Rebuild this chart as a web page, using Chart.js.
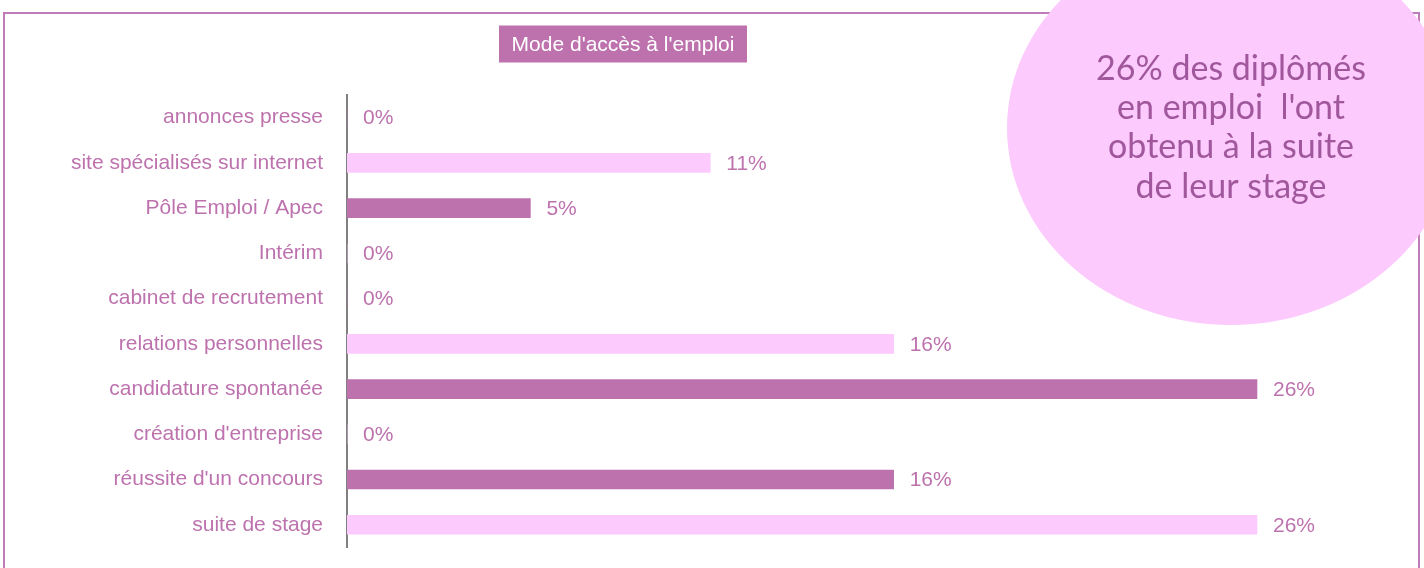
<!DOCTYPE html>
<html>
<head>
<meta charset="utf-8">
<script src="https://cdn.jsdelivr.net/npm/chart.js@4.4.1/dist/chart.umd.min.js"></script>
<style>
  html, body { margin: 0; padding: 0; background: #ffffff; }
  #wrap { width: 1424px; height: 568px; position: relative; }
</style>
</head>
<body>
<div id="wrap"><canvas id="c" width="1424" height="568"></canvas></div>
<script>
const categories = [
  "annonces presse",
  "site spécialisés sur internet",
  "Pôle Emploi / Apec",
  "Intérim",
  "cabinet de recrutement",
  "relations personnelles",
  "candidature spontanée",
  "création d'entreprise",
  "réussite d'un concours",
  "suite de stage"
];
const values = [0, 10.5, 5.3, 0, 0, 15.8, 26.3, 0, 15.8, 26.3];
const chartTitle = "Mode d'accès à l'emploi";
const noteLines = ["26% des diplômés", "en emploi  l'ont", "obtenu à la suite", "de leur stage"];

const DARK = "#BD72AE";
const LIGHT = "#FCCAFC";
const TEXT = "#BD72AE";
const FONT = "'Liberation Sans', Arial, sans-serif";
const barColors = categories.map((_, i) => ((categories.length - 1 - i) % 2 === 0 ? LIGHT : DARK));

const decorPlugin = {
  id: 'decor',
  beforeDraw(chart) {
    const ctx = chart.ctx;
    ctx.save();
    ctx.strokeStyle = "#C07CB8";
    ctx.lineWidth = 2;
    ctx.strokeRect(4, 13, 1415, 600);
    ctx.font = "21px " + FONT;
    const cx = 623, cy = 44;
    const bw = 248, bh = 37;
    ctx.fillStyle = DARK;
    ctx.fillRect(cx - bw / 2, cy - bh / 2, bw, bh);
    ctx.fillStyle = "#ffffff";
    ctx.textAlign = "center";
    ctx.textBaseline = "middle";
    ctx.fillText(chartTitle, cx, cy + 1);
    ctx.restore();
  },
  afterDraw(chart) {
    const ctx = chart.ctx;
    ctx.save();
    const meta = chart.getDatasetMeta(0);
    ctx.font = "21px " + FONT;
    ctx.fillStyle = TEXT;
    ctx.textAlign = "left";
    ctx.textBaseline = "middle";
    meta.data.forEach((bar, i) => {
      const v = values[i];
      ctx.fillText(Math.round(v) + "%", bar.x + 16, bar.y + 1);
    });
    ctx.beginPath();
    ctx.ellipse(1231, 128, 224, 197, 0, 0, Math.PI * 2);
    ctx.fillStyle = LIGHT;
    ctx.fill();
    ctx.fillStyle = "#A0579C";
    ctx.font = "34px Lato, 'Open Sans', sans-serif";
    ctx.textAlign = "center";
    ctx.textBaseline = "middle";
    const ys = [69, 108, 147, 187];
    noteLines.forEach((t, i) => ctx.fillText(t, 1231, ys[i]));
    ctx.restore();
  }
};

new Chart(document.getElementById('c'), {
  type: 'bar',
  data: {
    labels: categories,
    datasets: [{
      data: values,
      backgroundColor: barColors,
      borderWidth: 0,
      barThickness: 19
    }]
  },
  options: {
    indexAxis: 'y',
    responsive: false,
    maintainAspectRatio: false,
    animation: false,
    layout: { padding: { left: 4, right: 39, top: 95, bottom: 19 } },
    plugins: { legend: { display: false }, tooltip: { enabled: false }, title: { display: false } },
    scales: {
      x: { display: false, min: 0, max: 30 },
      y: {
        grid: { display: false, drawTicks: true, tickLength: 16 },
        border: { display: true, color: "#808080", width: 2 },
        ticks: { color: TEXT, font: { family: FONT, size: 21 }, padding: 8 },
        afterFit(s) { s.width = 343; }
      }
    }
  },
  plugins: [decorPlugin]
});
</script>
</body>
</html>
